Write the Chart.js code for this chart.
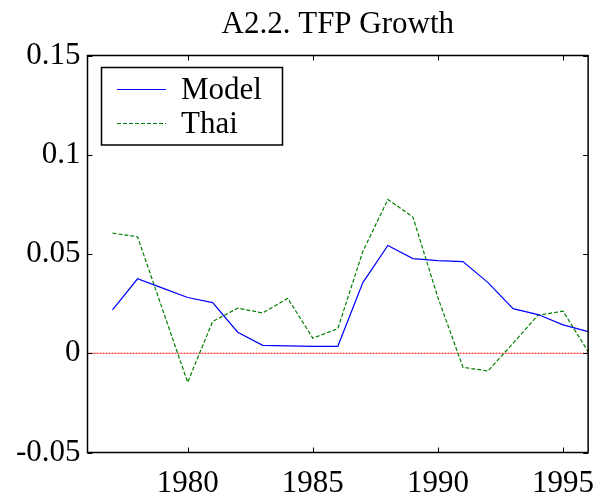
<!DOCTYPE html>
<html>
<head>
<meta charset="utf-8">
<script src="https://cdn.jsdelivr.net/npm/chart.js@4/dist/chart.umd.min.js"></script>
<style>
html,body{margin:0;padding:0;background:#fff;}
#wrap{width:608px;height:499px;position:relative;}
</style>
</head>
<body>
<div id="wrap"><canvas id="c" width="608" height="499"></canvas></div>
<script>
const chartTitle = "A2.2. TFP Growth";
const years = [1977,1978,1979,1980,1981,1982,1983,1984,1985,1986,1987,1988,1989,1990,1991,1992,1993,1994,1995,1996];
const modelTFP = [0.0218,0.0375,0.0328,0.0281,0.0255,0.0106,0.0040,0.0037,0.0035,0.0035,0.0356,0.0543,0.0477,0.0467,0.0462,0.0356,0.0225,0.0195,0.0143,0.0109];
const thaiTFP = [0.0605,0.0587,0.0220,-0.0146,0.0160,0.0227,0.0203,0.0277,0.0076,0.0124,0.0513,0.0775,0.0686,0.0280,-0.0071,-0.0089,0.0050,0.0192,0.0212,0.0008];
const xTicks = [1980,1985,1990,1995];
const yTicks = [-0.05,0,0.05,0.1,0.15];
const yTickLabels = ["-0.05","0","0.05","0.1","0.15"];
const xRange = [1976,1996];
const zeroLineX = [1976,1996];
const zeroLineY = [0,0];
const seriesNames = ["Model","Thai"];

const FONT = "'Liberation Serif', 'Times New Roman', serif";

const pts = (xs, ys) => xs.map((x,i)=>({x:x,y:ys[i]}));

const framePlugin = {
  id:'frame',
  afterDraw(chart){
    const ctx = chart.ctx, a = chart.chartArea;
    const xs = chart.scales.x, ys = chart.scales.y;
    ctx.save();
    ctx.strokeStyle = '#000';
    ctx.lineWidth = 1.5;
    ctx.strokeRect(a.left, a.top, a.right-a.left, a.bottom-a.top);
    ctx.lineWidth = 1;
    const tl = 5;
    ctx.beginPath();
    xTicks.forEach(v=>{
      const p = Math.round(xs.getPixelForValue(v))+0.5;
      ctx.moveTo(p,a.bottom); ctx.lineTo(p,a.bottom-tl);
      ctx.moveTo(p,a.top); ctx.lineTo(p,a.top+tl);
    });
    yTicks.forEach(v=>{
      const p = Math.round(ys.getPixelForValue(v))+0.5;
      ctx.moveTo(a.left,p); ctx.lineTo(a.left+tl,p);
      ctx.moveTo(a.right,p); ctx.lineTo(a.right-tl,p);
    });
    ctx.stroke();
    // title
    ctx.fillStyle = '#000';
    ctx.font = "31px " + FONT;
    ctx.textAlign = 'center';
    ctx.textBaseline = 'alphabetic';
    ctx.fillText(chartTitle, (a.left+a.right)/2, 33);
    // legend
    const lx = 101.5, ly = 67.5, lw = 181, lh = 77.5;
    ctx.fillStyle = '#fff';
    ctx.fillRect(lx, ly, lw, lh);
    ctx.strokeStyle = '#000';
    ctx.lineWidth = 1.5;
    ctx.strokeRect(lx, ly, lw, lh);
    const rows = [89.5, 123.5];
    chart.data.datasets.slice(0,2).forEach((ds,i)=>{
      ctx.strokeStyle = ds.borderColor;
      ctx.lineWidth = 1;
      ctx.setLineDash(ds.borderDash || []);
      ctx.beginPath();
      ctx.moveTo(117, rows[i]); ctx.lineTo(166, rows[i]);
      ctx.stroke();
      ctx.setLineDash([]);
      ctx.fillStyle = '#000';
      ctx.font = "31px " + FONT;
      ctx.textAlign = 'left';
      ctx.textBaseline = 'middle';
      ctx.fillText(ds.label, 181, rows[i]+1);
    });
    ctx.restore();
  }
};

new Chart(document.getElementById('c'), {
  type:'line',
  data:{
    datasets:[
      {label:seriesNames[0], data:pts(years, modelTFP), borderColor:'#0000ff', borderWidth:1.2, pointRadius:0, tension:0, fill:false},
      {label:seriesNames[1], data:pts(years, thaiTFP), borderColor:'#008000', borderWidth:1.2, borderDash:[4,2], pointRadius:0, tension:0, fill:false},
      {label:'zero', data:pts(zeroLineX, zeroLineY), borderColor:'#ff0000', borderWidth:1.2, borderDash:[2,1], pointRadius:0, tension:0, fill:false}
    ]
  },
  options:{
    responsive:false,
    animation:false,
    devicePixelRatio:1,
    layout:{padding:{top:55.5, right:18, left:0, bottom:0}},
    plugins:{legend:{display:false}, title:{display:false}, tooltip:{enabled:false}},
    scales:{
      x:{
        type:'linear', min:xRange[0], max:xRange[1],
        afterBuildTicks(s){ s.ticks = xTicks.map(v=>({value:v})); },
        afterFit(s){ s.height = 46.5; },
        grid:{display:false, drawTicks:false},
        border:{display:false},
        ticks:{color:'#000', font:{family:FONT, size:31}, padding:13, maxRotation:0, autoSkip:false,
          callback:(v)=>String(v)}
      },
      y:{
        type:'linear', min:yTicks[0], max:yTicks[yTicks.length-1],
        afterBuildTicks(s){ s.ticks = yTicks.map(v=>({value:v})); },
        afterFit(s){ s.width = 87.5; },
        grid:{display:false, drawTicks:false},
        border:{display:false},
        ticks:{color:'#000', font:{family:FONT, size:31}, padding:7, autoSkip:false,
          callback:(v)=>{ const i = yTicks.findIndex(t=>Math.abs(t-v)<1e-9); return i>=0 ? yTickLabels[i] : ''; }}
      }
    }
  },
  plugins:[framePlugin]
});
</script>
</body>
</html>
